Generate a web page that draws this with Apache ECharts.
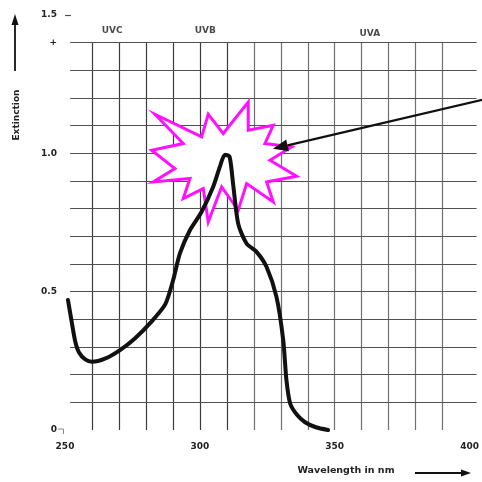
<!DOCTYPE html>
<html>
<head>
<meta charset="utf-8">
<script src="https://cdn.jsdelivr.net/npm/echarts@6/dist/echarts.min.js"></script>
<style>html,body{margin:0;padding:0;background:#fff;}#c{width:482px;height:482px;}</style>
</head>
<body>
<div id="c"></div>
<script>
// ---- data ----
const wavelength = [251.1, 252.5, 253.8, 255.2, 257.5, 260.0, 264.8, 270.4, 276.0, 281.8, 287.2, 290.1, 292.6, 296.3, 300.6, 304.9, 307.4, 309.3, 311.0, 312.3, 314.2, 317.3, 321.0, 324.7, 328.4, 330.9, 332.1, 333.5, 336.0, 339.0, 343.0, 347.5];
const extinction = [0.47, 0.39, 0.32, 0.28, 0.255, 0.247, 0.258, 0.289, 0.332, 0.389, 0.455, 0.542, 0.638, 0.722, 0.788, 0.878, 0.951, 0.995, 0.988, 0.891, 0.746, 0.674, 0.644, 0.59, 0.481, 0.325, 0.18, 0.095, 0.055, 0.028, 0.01, 0.0];
const xGridTicks = [260, 270, 280, 290, 300, 310, 320, 330, 340, 350, 360, 370, 380, 390];
const yGridTicks = [0.1, 0.2, 0.3, 0.4, 0.5, 0.6, 0.7, 0.8, 0.9, 1.0, 1.1, 1.2, 1.3, 1.4];
const xTickLabels = [250, 300, 350, 400];
const yTickLabels = { 0: '0', 5: '0.5', 10: '1.0', 14: '+', 15: '1.5' };
const bandNames = ['UVC', 'UVB', 'UVA'];
const bandCenters = [267.5, 302, 363];
const bandHeights = [1.445, 1.445, 1.434];
const starCenter = [309.3, 0.975];

const FONT = 'DejaVu Sans';
const X_MIN = 250, X_MAX = 402.6;
const gridLines = [];
xGridTicks.forEach(x => gridLines.push([
  { coord: [x, 0], lineStyle: { color: x >= 320 ? '#707070' : '#3c3c3c' } },
  { coord: [x, 1.4] }
]));
yGridTicks.forEach(y => gridLines.push([{ coord: [251.9, y] }, { coord: [X_MAX, y] }]));
gridLines.push([{ coord: [X_MIN, 1.5] }, { coord: [252.2, 1.5] }]);

const chart = echarts.init(document.getElementById('c'), null, { renderer: 'canvas' });
const option = {
  backgroundColor: '#ffffff',
  animation: false,
  grid: { left: 65, right: 5, top: 15, bottom: 52, containLabel: false },
  xAxis: {
    type: 'value', min: X_MIN, max: X_MAX, interval: 50,
    axisLine: { show: false }, axisTick: { show: false }, splitLine: { show: false },
    axisLabel: {
      margin: 12, color: '#222', fontFamily: FONT, fontWeight: 'bold', fontSize: 9,
      showMaxLabel: false,
      formatter: v => (xTickLabels.indexOf(v) >= 0 ? String(v) : '')
    }
  },
  yAxis: {
    type: 'value', min: 0, max: 1.5, interval: 0.1,
    axisLine: { show: false }, axisTick: { show: false }, splitLine: { show: false },
    axisLabel: {
      margin: 8, color: '#222', fontFamily: FONT, fontWeight: 'bold', fontSize: 9,
      formatter: v => { const k = Math.round(v * 10); return yTickLabels[k] !== undefined ? yTickLabels[k] : ''; }
    }
  },
  series: [
    {
      type: 'line', data: [], z: 1, silent: true, clip: false,
      markLine: {
        silent: true, symbol: ['none', 'none'], label: { show: false }, animation: false,
        lineStyle: { color: '#505050', width: 1.2, type: 'solid' },
        data: gridLines
      }
    },
    {
      type: 'scatter', z: 8, symbolSize: 0, silent: true,
      data: bandNames.map((n, i) => [bandCenters[i], bandHeights[i], n]),
      label: {
        show: true, position: 'inside', formatter: p => p.data[2],
        color: '#1a1a1a', fontFamily: FONT, fontWeight: 'bold', fontSize: 9
      }
    },
    {
      type: 'line', z: 10, smooth: 0.25, symbol: 'none', silent: true,
      data: wavelength.map((w, i) => [w, extinction[i]]),
      lineStyle: { color: '#111', width: 4, cap: 'round', join: 'round' }
    }
  ]
};
chart.setOption(option);

// annotations positioned from data coordinates
const c = chart.convertToPixel({ gridIndex: 0 }, starCenter);
const starOffsets = [[-70,-46],[-23.3,-23.3],[-16.7,-46],[-1.7,-26.7],[23.3,-58.3],[23.3,-30],[48.3,-35],[40,-16.7],[66.7,-13.3],[45,0],[71.7,16],[41.7,21.7],[48.3,41.7],[21.7,23.3],[13.3,50],[-3.3,26.7],[-16.7,61.7],[-21.7,28.3],[-41.7,38.3],[-35,18.3],[-71.7,21.7],[-50,8.3],[-73.3,-10],[-41.7,-16.7]];
const starPts = starOffsets.map(o => [c[0] + o[0], c[1] + o[1]]);

function arrow(x1, y1, x2, y2, len, half, width) {
  const dx = x1 - x2, dy = y1 - y2, L = Math.sqrt(dx * dx + dy * dy);
  const ux = dx / L, uy = dy / L;
  const bx = x2 + ux * len, by = y2 + uy * len;
  const px = -uy * half, py = ux * half;
  return [
    { type: 'line', z: 12, shape: { x1: x1, y1: y1, x2: bx, y2: by }, style: { stroke: '#111', lineWidth: width } },
    { type: 'polygon', z: 12, shape: { points: [[x2, y2], [bx + px, by + py], [bx - px, by - py]] }, style: { fill: '#111' } }
  ];
}
const tip = [c[0] + 48, c[1] - 11.5];
const graphics = [
  { type: 'polygon', z: 5, shape: { points: starPts }, style: { fill: '#ffffff', stroke: '#ff10ff', lineWidth: 3, lineJoin: 'miter' } },
  ...arrow(484, 99.5, tip[0], tip[1], 15, 6, 2.2),
  ...arrow(15, 71, 15, 14, 11, 3.5, 1.8),
  ...arrow(415, 473, 471, 473, 10, 3.5, 1.8),
  { type: 'text', z: 12, x: 17, y: 115, rotation: Math.PI / 2, style: { text: 'Extinction', fill: '#222', font: 'bold 9px "DejaVu Sans"', align: 'center', verticalAlign: 'middle' } },
  { type: 'text', z: 12, x: 346, y: 471, style: { text: 'Wavelength in nm', fill: '#222', font: 'bold 9.5px "DejaVu Sans"', align: 'center', verticalAlign: 'middle' } },
  { type: 'polyline', z: 12, shape: { points: [[58, 429], [63.5, 429], [63.5, 434]] }, style: { stroke: '#888', lineWidth: 1 } }
];
chart.setOption({ graphic: graphics });
</script>
</body>
</html>
